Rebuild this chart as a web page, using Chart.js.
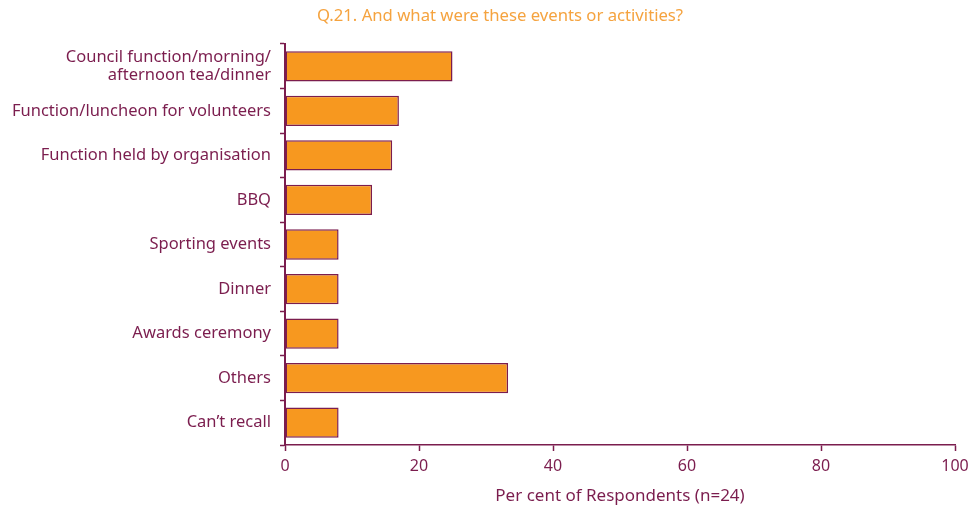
<!DOCTYPE html>
<html>
<head>
<meta charset="utf-8">
<script src="https://cdn.jsdelivr.net/npm/chart.js@4/dist/chart.umd.min.js"></script>
<style>
  body { margin: 0; background: #ffffff; }
  #wrap { width: 968px; height: 510px; position: relative; }
</style>
</head>
<body>
<div id="wrap"><canvas id="grafico"></canvas></div>
<script>
const categorias = [
    ['Council function/morning/', 'afternoon tea/dinner'],
    'Function/luncheon for volunteers',
    'Function held by organisation',
    'BBQ',
    'Sporting events',
    'Dinner',
    'Awards ceremony',
    'Others',
    'Can\u2019t recall'
];
const percentagens = [25, 17, 16, 13, 8, 8, 8, 33.3, 8];
const ticksX = [0, 20, 40, 60, 80, 100];

const titulo = 'Q.21. And what were these events or activities?';
const tituloEixoX = 'Per cent of Respondents (n=24)';

const corTexto = '#7b1d4e';
const corLaranja = '#f7981f';
const fonte = "'Noto Sans', sans-serif";

// titulo desenhado a parte, acima da area do grafico
const pluginTitulo = {
    id: 'tituloTopo',
    afterDraw(chart) {
        const ctx = chart.ctx;
        ctx.save();
        ctx.font = '16.7px ' + fonte;
        ctx.fillStyle = '#f5a33f';
        ctx.textAlign = 'center';
        ctx.textBaseline = 'middle';
        ctx.fillText(titulo, 500, 16);
        ctx.restore();
    }
};

new Chart(document.getElementById('grafico'), {
    type: 'bar',
    data: {
        labels: categorias,
        datasets: [{
            data: percentagens,
            backgroundColor: corLaranja,
            borderColor: corTexto,
            borderWidth: 1.5,
            borderSkipped: false,
            barPercentage: 0.68,
            categoryPercentage: 1
        }]
    },
    options: {
        indexAxis: 'y',
        responsive: true,
        maintainAspectRatio: false,
        animation: false,
        layout: { padding: { top: 44, right: 0, left: 0, bottom: 0 } },
        plugins: {
            legend: { display: false },
            tooltip: { enabled: false }
        },
        scales: {
            x: {
                min: 0,
                max: 100,
                afterBuildTicks(scale) {
                    scale.ticks = ticksX.map(v => ({ value: v }));
                },
                afterFit(scale) {
                    scale.height = 65;
                    scale.paddingRight = 13;
                },
                grid: {
                    drawOnChartArea: false,
                    color: corTexto,
                    tickLength: 6,
                    tickWidth: 1.5
                },
                border: { color: corTexto, width: 1.5 },
                ticks: {
                    color: corTexto,
                    font: { family: fonte, size: 16 },
                    padding: 6,
                    maxRotation: 0
                },
                title: {
                    display: true,
                    text: tituloEixoX,
                    color: corTexto,
                    font: { family: fonte, size: 17 },
                    padding: { top: 8 }
                }
            },
            y: {
                offset: true,
                afterFit(scale) { scale.width = 285; },
                grid: {
                    offset: true,
                    drawOnChartArea: false,
                    color: corTexto,
                    tickLength: 5,
                    tickWidth: 1.5
                },
                border: { color: corTexto, width: 2 },
                ticks: {
                    color: corTexto,
                    font: { family: fonte, size: 16.5, lineHeight: 1.1 },
                    padding: 9,
                    crossAlign: 'near'
                }
            }
        }
    },
    plugins: [pluginTitulo]
});
</script>
</body>
</html>
